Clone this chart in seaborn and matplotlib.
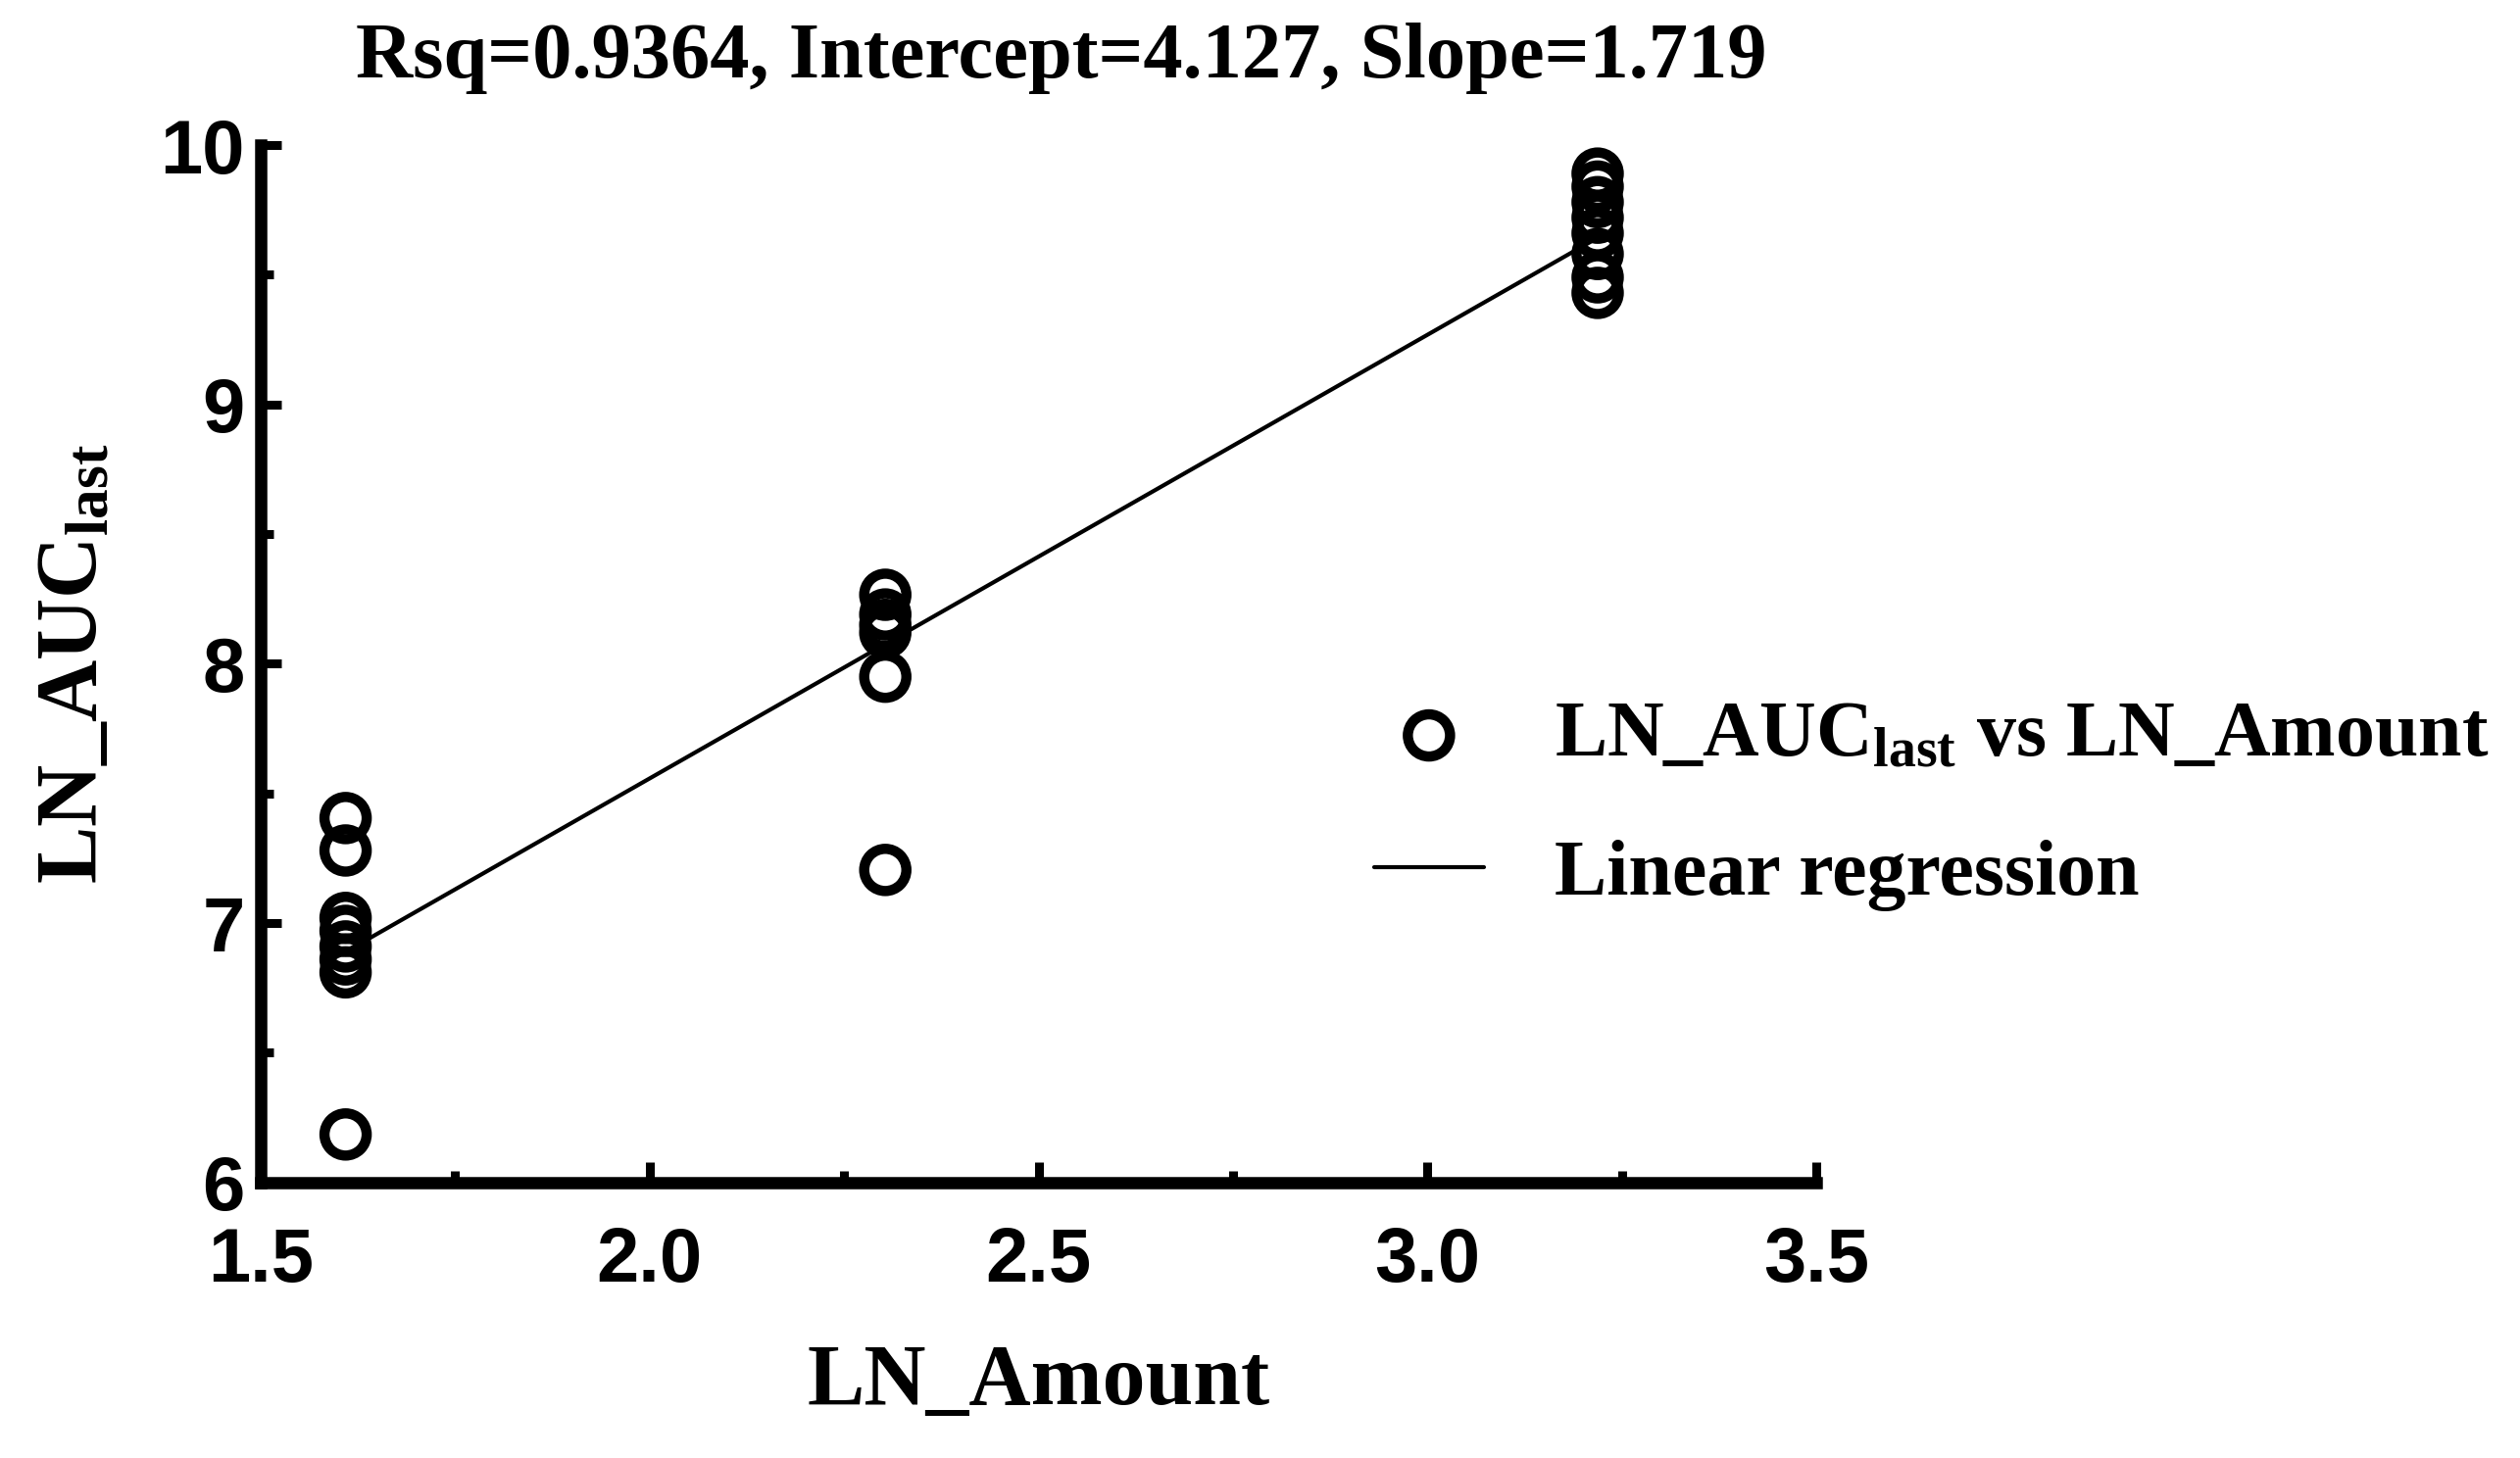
import numpy as np
import matplotlib
matplotlib.use("Agg")
import matplotlib.pyplot as plt
import seaborn as sns
from matplotlib.ticker import MultipleLocator, FormatStrFormatter

# LN_Amount levels (ln 5, ln 10, ln 25) and LN_AUClast
ln_amount = [1.609] * 8 + [2.303] * 6 + [3.219] * 8
ln_auc = [7.405, 7.28, 7.02, 6.97, 6.91, 6.86, 6.81, 6.185,
          8.266, 8.19, 8.15, 8.12, 7.95, 7.205,
          9.89, 9.84, 9.78, 9.72, 9.66, 9.58, 9.49, 9.43]

title_text = "Rsq=0.9364, Intercept=4.127, Slope=1.719"
scatter_label = "LN_AUC$_{last}$ vs LN_Amount"
line_label = "Linear regression"

sns.set_theme(style="ticks")
plt.rcParams["font.family"] = ["Liberation Serif", "DejaVu Serif"]
plt.rcParams["font.weight"] = "bold"
plt.rcParams["text.color"] = "black"
plt.rcParams["axes.labelcolor"] = "black"
plt.rcParams["xtick.color"] = "black"
plt.rcParams["ytick.color"] = "black"
plt.rcParams["mathtext.fontset"] = "custom"
plt.rcParams["mathtext.rm"] = "Liberation Serif:bold"
plt.rcParams["mathtext.it"] = "Liberation Serif:bold"
plt.rcParams["mathtext.bf"] = "Liberation Serif:bold"
plt.rcParams["mathtext.default"] = "rm"

fig = plt.figure(figsize=(25.71, 14.88), dpi=100)
ax = fig.add_axes([0.1035, 0.189, 0.6172, 0.7115])

sns.regplot(
    x=ln_amount, y=ln_auc, ax=ax, ci=None, label=scatter_label,
    scatter_kws=dict(s=961, facecolors="none", edgecolors="black",
                     linewidths=7.5, alpha=1, zorder=3),
    line_kws=dict(color="black", lw=3, label=line_label, zorder=2),
)

ax.set_xlim(1.5, 3.5)
ax.set_ylim(6, 10)
ax.xaxis.set_major_locator(MultipleLocator(0.5))
ax.xaxis.set_minor_locator(MultipleLocator(0.25))
ax.yaxis.set_major_locator(MultipleLocator(1))
ax.yaxis.set_minor_locator(MultipleLocator(0.5))
ax.xaxis.set_major_formatter(FormatStrFormatter("%.1f"))

sns.despine(ax=ax)
for side in ["left", "bottom"]:
    ax.spines[side].set_linewidth(9)
    ax.spines[side].set_color("black")

ax.tick_params(which="major", direction="in", length=15, width=6.5, colors="black")
ax.tick_params(which="minor", direction="in", length=9, width=6.5, colors="black")
ax.tick_params(axis="x", which="major", pad=32)
ax.tick_params(axis="y", which="major", pad=12)
for lab in ax.get_xticklabels() + ax.get_yticklabels():
    lab.set_fontfamily("Liberation Sans")
    lab.set_fontweight("bold")
    lab.set_fontsize(56)

ax.set_xlabel("LN_Amount", fontsize=63, fontweight="bold", labelpad=34)
ax.set_ylabel("LN_AUC$_{last}$", fontsize=63, fontweight="bold")
ax.yaxis.set_label_coords(-0.094, 0.5)

fig.text(0.421, 1 - 79 / 1488, title_text, ha="center", va="baseline",
         fontsize=58, fontweight="bold")

handles, labels = ax.get_legend_handles_labels()
fig.legend(handles, labels, loc="center left", bbox_to_anchor=(0.5453, 0.447),
           frameon=False, handlelength=1.4, handletextpad=0.9,
           labelspacing=0.86, borderpad=0, borderaxespad=0,
           prop={"family": "Liberation Serif", "weight": "bold", "size": 57.5})

fig.savefig("out.png", dpi=100)
